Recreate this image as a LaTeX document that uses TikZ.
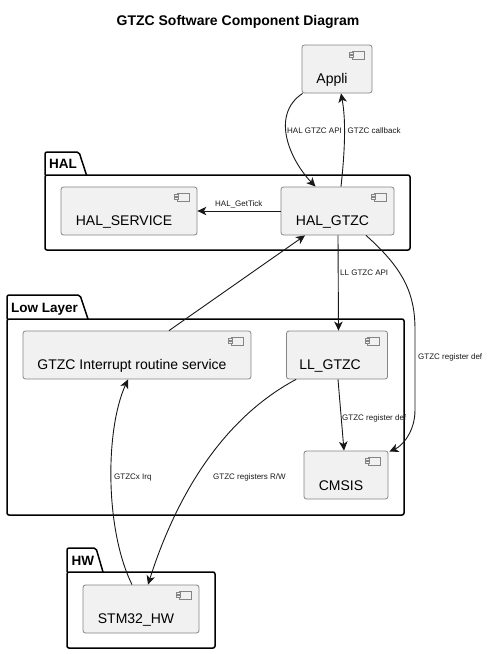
\documentclass[tikz,border=0pt]{standalone}
\usepackage{fontspec}
\setmainfont{Liberation Sans}
\usetikzlibrary{arrows.meta}
\definecolor{compfill}{HTML}{F1F1F1}
\definecolor{compline}{HTML}{858585}
\definecolor{edgecol}{HTML}{181818}
\tikzset{
  comp/.style={draw=compline, fill=compfill, line width=0.8pt, rounded corners=2.5pt,
    minimum height=48pt, inner sep=0pt,
    path picture={
      \draw[compline, line width=0.6pt, fill=compfill, sharp corners]
        ([shift={(-20pt,-6pt)}]path picture bounding box.north east) rectangle
        ([shift={(-8pt,-14pt)}]path picture bounding box.north east);
      \draw[compline, line width=0.6pt, fill=compfill, sharp corners]
        ([shift={(-22.5pt,-7.5pt)}]path picture bounding box.north east) rectangle
        ([shift={(-18.5pt,-9.5pt)}]path picture bounding box.north east);
      \draw[compline, line width=0.6pt, fill=compfill, sharp corners]
        ([shift={(-22.5pt,-10.5pt)}]path picture bounding box.north east) rectangle
        ([shift={(-18.5pt,-12.5pt)}]path picture bounding box.north east);
    }},
  ctext/.style={font=\fontsize{14}{16}\selectfont, anchor=base, xshift=-5pt, yshift=-11pt},
  pkg/.style={draw=black, line width=1.5pt, rounded corners=2pt},
  pkgtext/.style={font=\fontsize{13.5}{16}\selectfont\bfseries, anchor=base west, inner sep=0pt},
  conn/.style={draw=edgecol, line width=0.9pt, -{Stealth[length=9pt,width=8.5pt,inset=2.5pt]}},
  elabel/.style={font=\fontsize{8}{9}\selectfont, text=edgecol, anchor=base west, inner sep=0pt},
}
\begin{document}
\begin{tikzpicture}[x=1pt, y=-1pt]
\useasboundingbox (0,0) rectangle (490,654);
\fill[white] (0,0) rectangle (490,654);

% title
\node[font=\fontsize{14}{16}\selectfont\bfseries, anchor=base, inner sep=0pt] (title) at (238,25) {GTZC Software Component Diagram};

% packages
\draw[pkg] (45,175) rectangle (410,250);
\draw[pkg] (45,175) -- (45,152) -- (79,152) -- (86.5,175);
\node[pkgtext] (halpkg) at (49,168) {HAL};

\draw[pkg] (7,319) rectangle (404,515);
\draw[pkg] (7,319) -- (7,295) -- (80,295) -- (88,319);
\node[pkgtext] (llpkg) at (11,312) {Low Layer};

\draw[pkg] (67,572) rectangle (215,648);
\draw[pkg] (67,572) -- (67,548) -- (96,548) -- (103,572);
\node[pkgtext] (hwpkg) at (71.5,565) {HW};

% components
\node[comp, minimum width=70pt, label={[ctext]center:Appli}] (appli) at (337,69) {};
\node[comp, minimum width=136pt, label={[ctext]center:HAL\_SERVICE}] (hserv) at (129,211) {};
\node[comp, minimum width=113pt, label={[ctext]center:HAL\_GTZC}] (hgtzc) at (337.5,211) {};
\node[comp, minimum width=228pt, label={[ctext]center:GTZC Interrupt routine service}] (intr) at (137,355) {};
\node[comp, minimum width=101pt, label={[ctext, xshift=-2pt]center:LL\_GTZC}] (llgtzc) at (337,355) {};
\node[comp, minimum width=84pt, label={[ctext]center:CMSIS}] (cmsis) at (346,475) {};
\node[comp, minimum width=116pt, label={[ctext]center:STM32\_HW}] (stm) at (141,609) {};

% connectors
\draw[conn] ([xshift=1pt]appli.south west) .. controls (270,115) and (290,160) .. ([xshift=-22pt]hgtzc.north);
\draw[conn] ([xshift=3.5pt]hgtzc.north) .. controls (345,150) and (346,120) .. ([xshift=4pt]appli.south);
\draw[conn] (hgtzc.west) -- (hserv.east);
\draw[conn] ([xshift=32pt]intr.north) -- ([xshift=-32.5pt]hgtzc.south);
\draw[conn] ([xshift=0.5pt]hgtzc.south) -- ([xshift=1.5pt]llgtzc.north);
\draw[conn] ([xshift=28.5pt]hgtzc.south) .. controls (405,270) and (415,295) .. (415,330)
   -- (415,410) .. controls (415,432) and (402,446) .. ([xshift=1pt,yshift=-1pt]cmsis.north east);
\draw[conn] ([xshift=1pt]llgtzc.south) -- ([xshift=-2pt]cmsis.north);
\draw[conn] ([xshift=10pt]llgtzc.south west) .. controls (220,420) and (175,500) .. ([xshift=7pt]stm.north);
\draw[conn] ([xshift=-9pt]stm.north) .. controls (105,530) and (105,430) .. ([xshift=-9pt]intr.south);

% connector labels
\node[elabel] (l1) at (287,133) {HAL GTZC API};
\node[elabel] (l2) at (347.5,133) {GTZC callback};
\node[elabel] (l3) at (215,206) {HAL\_GetTick};
\node[elabel] (l4) at (340,275) {LL GTZC API};
\node[elabel] (l5) at (418,359) {GTZC register def};
\node[elabel] (l6) at (342,420) {GTZC register def};
\node[elabel] (l7) at (213,479) {GTZC registers R/W};
\node[elabel] (l8) at (114,479) {GTZCx Irq};
\end{tikzpicture}
\end{document}
